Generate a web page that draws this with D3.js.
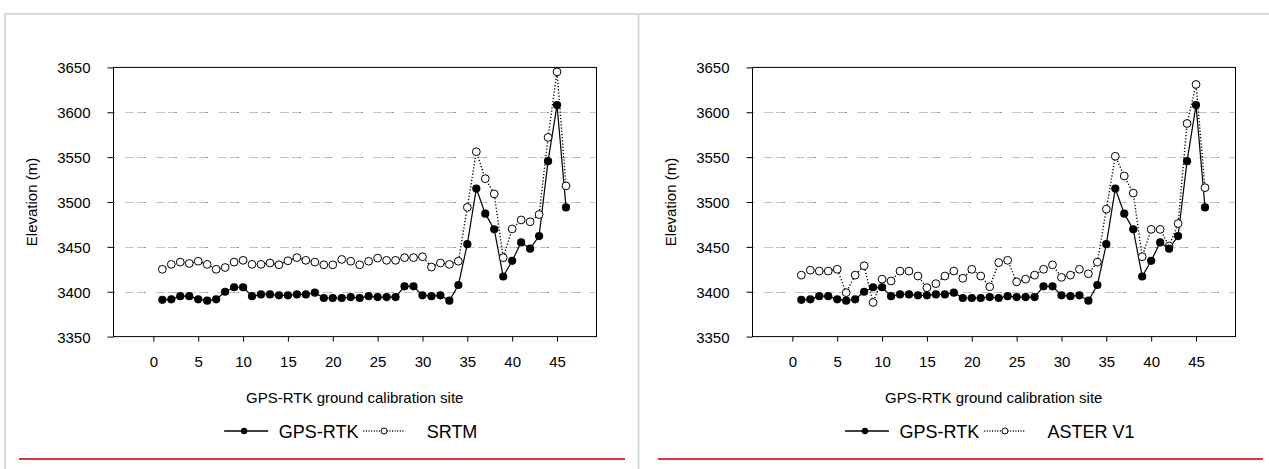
<!DOCTYPE html>
<html>
<head>
<meta charset="utf-8">
<script src="https://cdn.jsdelivr.net/npm/d3@7"></script>
<style>
  body { margin: 0; background: #fff; }
  svg { display: block; font-family: "Liberation Sans", Arial, sans-serif; }
</style>
</head>
<body>
<svg id="chart" width="1269" height="469"></svg>
<script>
// ---- data ----
const sites = d3.range(1, 47);
const gpsRtk = [3391, 3391.5, 3395, 3395, 3391.5, 3390, 3391.5, 3400, 3405, 3405,
  3395, 3397, 3397, 3396, 3396, 3397, 3397, 3399, 3393, 3393,
  3393, 3394, 3393, 3395, 3394, 3394, 3394, 3406, 3406, 3396,
  3395, 3396, 3390, 3407.5, 3453, 3515, 3487, 3469.5, 3417, 3434.5,
  3455, 3448, 3462, 3545.5, 3608, 3494];
const srtm = [3425, 3430.5, 3433, 3431.5, 3434, 3430.5, 3425, 3427, 3433, 3435,
  3430.5, 3430.5, 3432, 3430, 3434.5, 3438, 3435, 3433, 3430, 3430,
  3436, 3434, 3430, 3434, 3437.5, 3435, 3435, 3438, 3438, 3439,
  3427.5, 3432, 3430.5, 3434, 3494, 3556, 3526, 3509, 3438, 3470,
  3480, 3478, 3486, 3572, 3645, 3518];
const asterV1 = [3418.5, 3424, 3423, 3423, 3425, 3399, 3418.5, 3429, 3388, 3414,
  3412, 3423, 3423, 3417.5, 3404.5, 3409, 3417.5, 3423, 3415, 3425,
  3417.5, 3405.5, 3432.5, 3435, 3411, 3414, 3418.5, 3425, 3430, 3416,
  3418.5, 3425, 3420, 3433, 3492, 3551, 3529, 3510, 3439, 3469.5,
  3469.5, 3451, 3476, 3587.5, 3631, 3516];
const xTicks = [0, 5, 10, 15, 20, 25, 30, 35, 40, 45];
const yTicks = [3350, 3400, 3450, 3500, 3550, 3600, 3650];
const gridTicks = [3400, 3450, 3500, 3550, 3600];
const xLabel = "GPS-RTK ground calibration site";
const yLabel = "Elevation (m)";
const refName = "GPS-RTK";
const panelNames = ["SRTM", "ASTER V1"];
const panelSeries = [srtm, asterV1];

// ---- layout ----
const svg = d3.select("#chart");
const W = 1269, H = 469;

svg.append("rect").attr("x", 0).attr("y", 0).attr("width", W).attr("height", H).attr("fill", "#fff");
svg.append("line").attr("x1", 4).attr("x2", W).attr("y1", 14).attr("y2", 14)
  .attr("stroke", "#d9d9d9").attr("stroke-width", 2);
svg.append("line").attr("x1", 5).attr("x2", 5).attr("y1", 14).attr("y2", H)
  .attr("stroke", "#d9d9d9").attr("stroke-width", 2);
svg.append("line").attr("x1", 638.5).attr("x2", 638.5).attr("y1", 14).attr("y2", H)
  .attr("stroke", "#d9d9d9").attr("stroke-width", 2);
[[19, 625], [658, 1263]].forEach(([a, b]) => {
  svg.append("line").attr("x1", a).attr("x2", b).attr("y1", 459).attr("y2", 459)
    .attr("stroke", "#d6383d").attr("stroke-width", 2);
});

const plotTop = 67.4, plotBottom = 336.6, plotW = 483.5;
const offsets = [113, 752];

panelSeries.forEach((series, pi) => {
  const x0 = offsets[pi];
  const g = svg.append("g");
  const x = d3.scaleLinear().domain([-4.5, 49.4]).range([x0, x0 + plotW]);
  const y = d3.scaleLinear().domain([3350, 3650]).range([plotBottom, plotTop]);

  // gridlines
  gridTicks.forEach(t => {
    const yy = Math.round(y(t)) + 0.5;
    g.append("line").attr("x1", x0).attr("x2", x0 + plotW).attr("y1", yy).attr("y2", yy)
      .attr("stroke", "#c4c4c4").attr("stroke-width", 1)
      .attr("stroke-dasharray", "9,3,9,10").attr("stroke-dashoffset", -12);
    g.append("line").attr("x1", x0).attr("x2", x0 + plotW).attr("y1", yy).attr("y2", yy)
      .attr("stroke", "#7a5a5a").attr("stroke-width", 1)
      .attr("stroke-dasharray", "1,30").attr("stroke-dashoffset", -0.5);
  });

  // frame
  g.append("rect").attr("x", x0 + 0.5).attr("y", plotTop).attr("width", plotW - 0.5)
    .attr("height", plotBottom - plotTop).attr("fill", "none").attr("stroke", "#000").attr("stroke-width", 1);

  // axes
  const yAxis = g.append("g").attr("transform", `translate(${x0 + 0.5},0)`)
    .call(d3.axisLeft(y).tickValues(yTicks).tickSize(6).tickSizeOuter(0).tickPadding(17).tickFormat(d3.format("d")));
  yAxis.select(".domain").remove();
  yAxis.selectAll("text").attr("font-size", 15).attr("fill", "#000")
    .attr("font-family", "Liberation Sans, Arial, sans-serif").attr("dy", "0.36em");
  yAxis.selectAll("line").attr("stroke", "#000");

  const xAxis = g.append("g").attr("transform", `translate(0,${plotBottom})`)
    .call(d3.axisBottom(x).tickValues(xTicks).tickSize(5).tickSizeOuter(0).tickFormat(d3.format("d")));
  xAxis.select(".domain").remove();
  xAxis.selectAll("text").attr("font-size", 15).attr("fill", "#000")
    .attr("font-family", "Liberation Sans, Arial, sans-serif").attr("dy", null).attr("y", 30.6);
  xAxis.selectAll("line").attr("stroke", "#000");

  // axis titles
  const cx = x0 + plotW / 2;
  g.append("text").attr("x", cx).attr("y", 402.5).attr("text-anchor", "middle")
    .attr("font-size", 15).attr("fill", "#000").text(xLabel);
  g.append("text").attr("transform", `translate(${x0 - 76},${(plotTop + plotBottom) / 2}) rotate(-90)`)
    .attr("text-anchor", "middle").attr("font-size", 15).attr("fill", "#000").text(yLabel);

  // lines
  const line = d3.line().x((d, i) => x(sites[i])).y(d => y(d));
  g.append("path").datum(gpsRtk).attr("d", line).attr("fill", "none")
    .attr("stroke", "#000").attr("stroke-width", 1.2);
  g.append("path").datum(series).attr("d", line).attr("fill", "none")
    .attr("stroke", "#000").attr("stroke-width", 1.4).attr("stroke-dasharray", "1.2,2");

  // markers
  g.selectAll(".open").data(series).enter().append("circle")
    .attr("cx", (d, i) => x(sites[i])).attr("cy", d => y(d)).attr("r", 3.9)
    .attr("fill", "#fff").attr("stroke", "#000").attr("stroke-width", 1);
  g.selectAll(".filled").data(gpsRtk).enter().append("circle")
    .attr("cx", (d, i) => x(sites[i])).attr("cy", d => y(d)).attr("r", 4.1)
    .attr("fill", "#000");

  // legend
  const lg = g.append("g");
  const ly = 431;
  lg.append("line").attr("x1", 0).attr("x2", 44).attr("y1", ly).attr("y2", ly)
    .attr("stroke", "#000").attr("stroke-width", 1.5);
  lg.append("circle").attr("cx", 20).attr("cy", ly).attr("r", 3.2).attr("fill", "#000");
  const t1 = lg.append("text").attr("x", 54.6).attr("y", ly + 6.5).attr("font-size", 18)
    .attr("fill", "#000").text(refName);
  const s2 = 54.6 + t1.node().getComputedTextLength() + 5;
  lg.append("line").attr("x1", s2).attr("x2", s2 + 41.7).attr("y1", ly).attr("y2", ly)
    .attr("stroke", "#000").attr("stroke-width", 1.3).attr("stroke-dasharray", "1,1.6");
  lg.append("circle").attr("cx", s2 + 20.7).attr("cy", ly).attr("r", 3)
    .attr("fill", "#fff").attr("stroke", "#000").attr("stroke-width", 1);
  const t2 = lg.append("text").attr("x", s2 + 63.3).attr("y", ly + 6.5).attr("font-size", 18)
    .attr("fill", "#000").text(panelNames[pi]);
  const total = s2 + 63.3 + t2.node().getComputedTextLength();
  lg.attr("transform", `translate(${cx - 4 - total / 2},0)`);
});
</script>
</body>
</html>
